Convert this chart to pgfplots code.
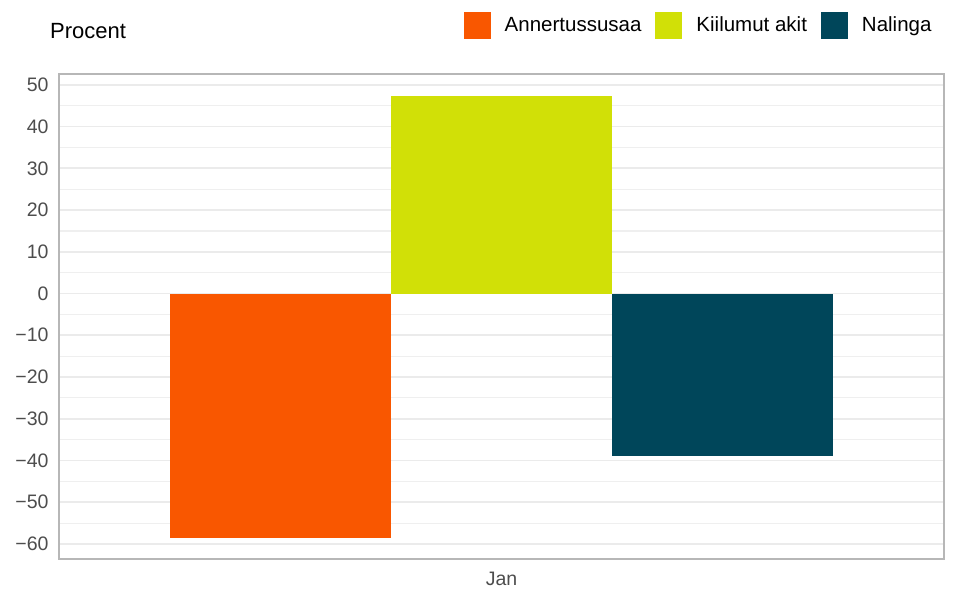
\documentclass[border=0pt]{standalone}
\usepackage{pgfplots}
\pgfplotsset{compat=1.18}
\usepackage{fontspec}
\setmainfont{Liberation Sans}
\definecolor{cOrange}{RGB}{249,87,0}
\definecolor{cGreen}{RGB}{209,224,7}
\definecolor{cDark}{RGB}{0,70,90}
\definecolor{gridc}{RGB}{235,235,235}
\definecolor{framec}{RGB}{183,183,183}
\definecolor{tickc}{RGB}{77,77,77}
\begin{document}
\begin{tikzpicture}
\path[use as bounding box] (0,0) rectangle (957pt,594pt);
\node[anchor=west,font=\fontsize{22}{26}\selectfont,inner sep=0pt] at (50pt,563pt) {Procent};
\begin{axis}[
  at={(59pt,35pt)}, anchor=south west,
  scale only axis, width=885pt, height=485pt,
  ybar, bar width=1, bar shift=0pt,
  xmin=-2, xmax=2, ymin=-63.6, ymax=52.6,
  xtick={0}, xticklabels={Jan},
  ytick={-60,-50,...,50},
  yticklabels={−60,−50,−40,−30,−20,−10,0,10,20,30,40,50},
  minor y tick num=1,
  ymajorgrids, yminorgrids,
  major grid style={draw=gridc,line width=1.8pt},
  minor grid style={draw=gridc!80!white,line width=1.2pt},
  major tick length=0pt, minor tick length=0pt,
  axis line style={draw=framec,line width=1.6pt},
  tick label style={font=\fontsize{19.5}{23}\selectfont,text=tickc},
  yticklabel style={xshift=-7pt},
  xticklabel style={yshift=-10pt},
  legend columns=3,
  legend style={draw=none,fill=none,at={(0.9895,1.133)},anchor=north east,
    font=\fontsize{20.5}{24}\selectfont, column sep=14pt,
    nodes={inner sep=0pt}},
  legend cell align=left,
  legend image code/.code={\fill[#1] (0pt,-13.5pt) rectangle (27pt,13.5pt);},
]
\addplot[fill=cOrange,draw=none] coordinates {(-1,-58.6)};
\addlegendentry{Annertussusaa}
\addplot[fill=cGreen,draw=none] coordinates {(0,47.4)};
\addlegendentry{Kiilumut akit}
\addplot[fill=cDark,draw=none] coordinates {(1,-38.9)};
\addlegendentry{Nalinga}
\end{axis}
\end{tikzpicture}
\end{document}
